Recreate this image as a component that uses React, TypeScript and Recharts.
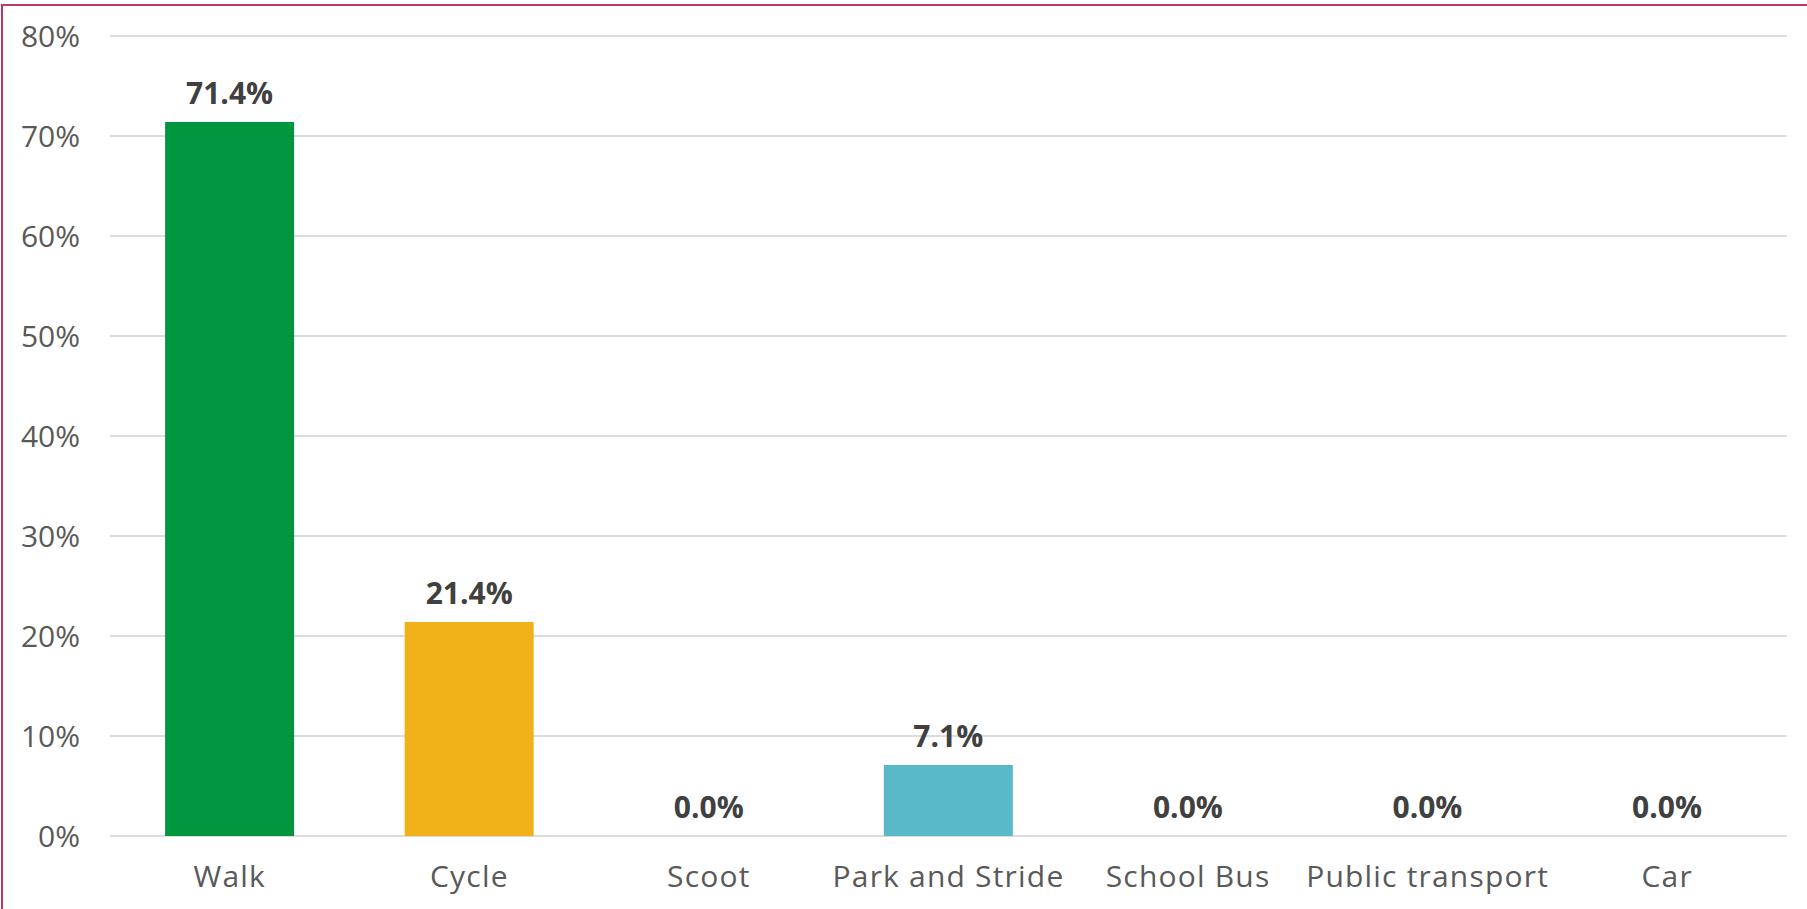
import { BarChart, Bar, XAxis, YAxis, CartesianGrid, Cell, LabelList } from 'recharts';

const MODES = ['Walk', 'Cycle', 'Scoot', 'Park and Stride', 'School Bus', 'Public transport', 'Car'];
const SHARES = [71.4, 21.4, 0, 7.1, 0, 0, 0];
const COLORS = ['#00953f', '#f1b118', '#e0503c', '#59b9c9', '#7f6fb0', '#4a7ebb', '#9b9b9b'];
const Y_TICKS = [0, 10, 20, 30, 40, 50, 60, 70, 80];

const FONT = '"Open Sans", "DejaVu Sans", sans-serif';

const data = MODES.map((mode, i) => ({ mode, share: SHARES[i] }));

export default function App() {
  return (
    <div style={{ position: 'absolute', left: 0, top: 0, width: 1807, height: 909, overflow: 'hidden', background: '#fff' }}>
      {/* outer frame, runs off the right/bottom edge like the original */}
      <div style={{ position: 'absolute', left: 1, top: 4, width: 1900, height: 1000, border: '2px solid #c0395c', boxSizing: 'border-box' }} />
      <BarChart
        width={1807}
        height={909}
        data={data}
        margin={{ top: 36, right: 20, bottom: 0, left: 0 }}
        barCategoryGap="23%"
        style={{ fontFamily: FONT }}
      >
        <CartesianGrid vertical={false} stroke="#dcdcdc" strokeWidth={2} />
        <XAxis
          dataKey="mode"
          axisLine={false}
          tickLine={false}
          tickSize={0}
          tickMargin={30}
          height={73}
          interval={0}
          tick={{ fontSize: 30, fill: '#595959', letterSpacing: 1.2 }}
        />
        <YAxis
          domain={[0, 80]}
          ticks={Y_TICKS}
          axisLine={false}
          tickLine={false}
          tickSize={0}
          tickMargin={30}
          width={110}
          tickFormatter={(v: number) => `${v}%`}
          tick={{ fontSize: 30, fill: '#595959' }}
        />
        {/* zero bars get a hairline so their 0.0% labels still show */}
        <Bar dataKey="share" isAnimationActive={false} minPointSize={0.5}>
          {data.map((d, i) => (
            <Cell key={i} fill={COLORS[i]} fillOpacity={d.share === 0 ? 0 : 1} />
          ))}
          <LabelList
            dataKey="share"
            position="top"
            offset={18}
            formatter={(v: unknown) => `${(v as number).toFixed(1)}%`}
            style={{ fontSize: 30, fontWeight: 700, fill: '#404040' }}
          />
        </Bar>
      </BarChart>
    </div>
  );
}
